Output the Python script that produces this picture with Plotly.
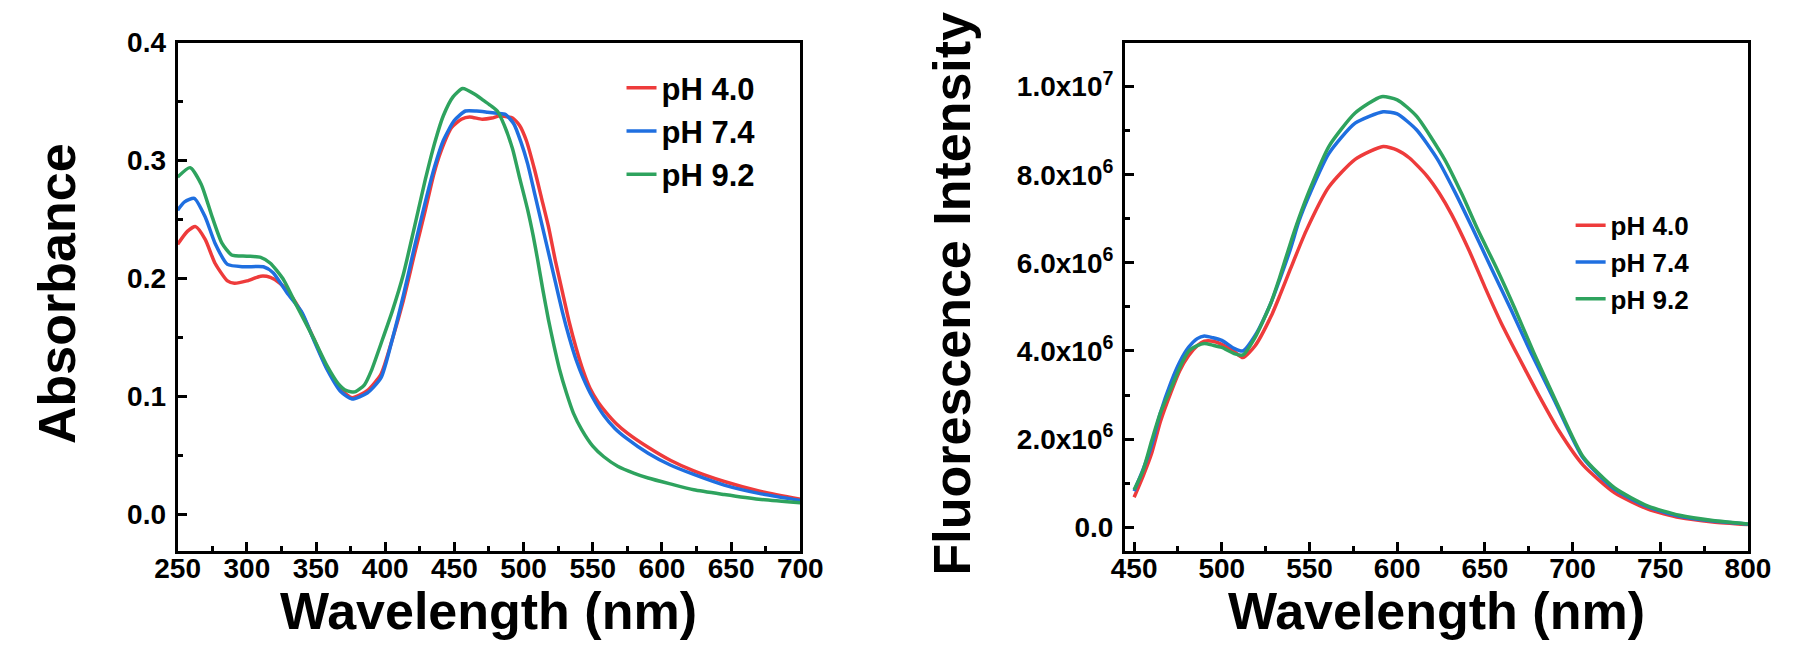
import plotly.graph_objects as go

# ---------------- Data: absorbance (left panel) ----------------
abs_wl_ph40 = [250, 257, 263, 270, 277, 286, 291, 300, 310, 317, 324, 331, 340, 348, 358, 368, 376, 387, 397,
               405, 413, 421, 429, 435, 440, 448, 455, 461, 470, 477, 483, 488, 492, 497, 502, 508, 513, 518,
               523, 528, 533, 538, 543, 548, 554, 560, 567, 575, 590, 606, 623, 645, 670, 700]
abs_ph40 = [0.229, 0.240, 0.244, 0.233, 0.213, 0.198, 0.196, 0.198, 0.202, 0.201, 0.196, 0.187, 0.170, 0.150,
            0.124, 0.106, 0.099, 0.105, 0.119, 0.148, 0.181, 0.220, 0.258, 0.288, 0.307, 0.328, 0.335, 0.337,
            0.335, 0.336, 0.338, 0.337, 0.336, 0.330, 0.317, 0.292, 0.268, 0.244, 0.215, 0.189, 0.163, 0.141,
            0.122, 0.107, 0.095, 0.086, 0.077, 0.069, 0.057, 0.046, 0.037, 0.028, 0.020, 0.013]

abs_wl_ph74 = [250, 255, 262, 270, 277, 286, 298, 312, 319, 329, 340, 348, 358, 368, 376, 387, 397, 405, 413,
               421, 429, 436, 442, 450, 458, 466, 474, 481, 487, 493, 498, 503, 508, 513, 518, 523, 528, 533,
               538, 543, 550, 558, 566, 574, 590, 606, 623, 645, 670, 700]
abs_ph74 = [0.258, 0.265, 0.268, 0.252, 0.230, 0.212, 0.210, 0.210, 0.205, 0.188, 0.171, 0.149, 0.123, 0.104,
            0.098, 0.103, 0.116, 0.148, 0.185, 0.226, 0.265, 0.296, 0.317, 0.334, 0.342, 0.342, 0.341, 0.340,
            0.339, 0.331, 0.316, 0.297, 0.272, 0.247, 0.222, 0.197, 0.172, 0.150, 0.131, 0.116, 0.099, 0.084,
            0.073, 0.065, 0.052, 0.042, 0.034, 0.025, 0.018, 0.012]

abs_wl_ph92 = [250, 259, 267, 275, 282, 289, 300, 310, 317, 326, 336, 348, 358, 366, 372, 378, 385, 390, 397,
               405, 413, 421, 429, 436, 442, 449, 456, 465, 471, 477, 481, 486, 492, 497, 503, 507, 510, 514,
               518, 522, 526, 531, 536, 542, 550, 558, 568, 580, 590, 606, 623, 645, 670, 700]
abs_ph92 = [0.286, 0.294, 0.280, 0.252, 0.230, 0.220, 0.219, 0.218, 0.213, 0.200, 0.177, 0.150, 0.126, 0.111,
            0.105, 0.104, 0.110, 0.122, 0.145, 0.172, 0.203, 0.243, 0.284, 0.316, 0.338, 0.354, 0.361, 0.356,
            0.351, 0.346, 0.342, 0.330, 0.310, 0.286, 0.258, 0.236, 0.217, 0.190, 0.165, 0.143, 0.123, 0.103,
            0.086, 0.072, 0.058, 0.049, 0.041, 0.035, 0.031, 0.026, 0.021, 0.017, 0.013, 0.010]

# ---------------- Data: fluorescence (right panel) ----------------
fl_wl_ph40 = [450, 455, 460, 465, 471, 476, 481, 486, 490, 495, 500, 507, 512, 519, 528, 533, 539, 548, 561,
              576, 592, 600, 607, 617, 624, 631, 641, 650, 659, 669, 680, 692, 706, 724, 743, 761, 780, 800]
fl_ph40 = [0.68e6, 1.15e6, 1.68e6, 2.40e6, 3.06e6, 3.55e6, 3.89e6, 4.12e6, 4.22e6, 4.22e6, 4.15e6, 3.99e6,
           3.85e6, 4.12e6, 4.78e6, 5.25e6, 5.85e6, 6.72e6, 7.72e6, 8.35e6, 8.64e6, 8.56e6, 8.38e6, 7.97e6,
           7.58e6, 7.10e6, 6.28e6, 5.45e6, 4.66e6, 3.88e6, 3.05e6, 2.20e6, 1.41e6, 0.78e6, 0.41e6, 0.22e6,
           0.12e6, 0.06e6]

fl_wl_ph74 = [450, 455, 460, 465, 471, 476, 481, 486, 490, 495, 500, 507, 512, 519, 528, 533, 539, 544, 550,
              561, 576, 592, 600, 611, 623, 633, 643, 654, 665, 676, 690, 706, 724, 743, 761, 780, 800]
fl_ph74 = [0.82e6, 1.30e6, 1.86e6, 2.60e6, 3.29e6, 3.75e6, 4.08e6, 4.28e6, 4.34e6, 4.30e6, 4.24e6, 4.06e6,
           4.00e6, 4.35e6, 5.09e6, 5.62e6, 6.30e6, 6.95e6, 7.55e6, 8.48e6, 9.17e6, 9.43e6, 9.38e6, 9.02e6,
           8.35e6, 7.60e6, 6.78e6, 5.85e6, 4.93e6, 3.98e6, 2.85e6, 1.57e6, 0.86e6, 0.46e6, 0.25e6, 0.14e6,
           0.07e6]

fl_wl_ph92 = [450, 455, 460, 465, 471, 476, 481, 486, 490, 495, 500, 507, 512, 519, 528, 533, 539, 544, 550,
              561, 576, 591, 600, 611, 627, 637, 646, 657, 667, 678, 691, 706, 724, 743, 761, 780, 800]
fl_ph92 = [0.85e6, 1.28e6, 1.96e6, 2.60e6, 3.15e6, 3.62e6, 3.99e6, 4.12e6, 4.17e6, 4.13e6, 4.08e6, 3.94e6,
           3.91e6, 4.31e6, 5.09e6, 5.67e6, 6.43e6, 7.02e6, 7.65e6, 8.64e6, 9.40e6, 9.77e6, 9.70e6, 9.33e6,
           8.35e6, 7.55e6, 6.75e6, 5.85e6, 4.97e6, 3.95e6, 2.82e6, 1.60e6, 0.89e6, 0.48e6, 0.27e6, 0.15e6,
           0.075e6]

series_names = ["pH 4.0", "pH 7.4", "pH 9.2"]
fl_tickvals = [0, 2e6, 4e6, 6e6, 8e6, 1e7]
fl_ticktext = ["0.0", "2.0x10<sup>6</sup>", "4.0x10<sup>6</sup>", "6.0x10<sup>6</sup>",
               "8.0x10<sup>6</sup>", "1.0x10<sup>7</sup>"]

# ---------------- Styling ----------------
COLORS = ["#EE3B3B", "#1F6FE0", "#2EA35E"]
FONT = "Arial, 'Liberation Sans', Helvetica, sans-serif"
W, H = 1800, 652
OFF = 8  # the page body margin shifts the figure by this many pixels

fig = go.Figure()

abs_sets = [(abs_wl_ph40, abs_ph40), (abs_wl_ph74, abs_ph74), (abs_wl_ph92, abs_ph92)]
fl_sets = [(fl_wl_ph40, fl_ph40), (fl_wl_ph74, fl_ph74), (fl_wl_ph92, fl_ph92)]

for (xs, ys), name, c in zip(abs_sets, series_names, COLORS):
    fig.add_trace(go.Scatter(x=xs, y=ys, name=name, mode="lines",
                             line=dict(color=c, width=3.5, shape="spline", smoothing=0.6),
                             xaxis="x", yaxis="y", legend="legend"))
for (xs, ys), name, c in zip(fl_sets, series_names, COLORS):
    fig.add_trace(go.Scatter(x=xs, y=ys, name=name, mode="lines",
                             line=dict(color=c, width=3.5, shape="spline", smoothing=0.6),
                             xaxis="x2", yaxis="y2", legend="legend2"))


def px_x(p):
    return (p - OFF) / W


def px_y(p):
    return 1 - (p - OFF) / H


tickfont = dict(family=FONT, size=28, color="black", weight="bold")
common = dict(showline=True, linecolor="black", linewidth=3, mirror=True,
              ticks="inside", ticklen=9, tickwidth=3, tickcolor="black",
              showgrid=False, zeroline=False, tickfont=tickfont)
minor_common = dict(ticks="inside", ticklen=5, tickwidth=3, tickcolor="black", showgrid=False)

ydom = [px_y(548), px_y(28)]

fig.update_layout(
    width=W, height=H,
    margin=dict(l=0, r=0, t=0, b=0),
    paper_bgcolor="white", plot_bgcolor="white",
    xaxis=dict(domain=[px_x(158.5), px_x(797.5)], range=[250, 700], dtick=50, tick0=0,
               minor=dict(dtick=25, **minor_common), ticklabelstandoff=-9,
               anchor="y", **common),
    yaxis=dict(domain=ydom, range=[-0.0305, 0.4], dtick=0.1, tick0=0, tickformat=".1f",
               minor=dict(dtick=0.05, **minor_common), ticklabelstandoff=3,
               anchor="x", **common),
    xaxis2=dict(domain=[px_x(1130.7), px_x(1770)], range=[444.8, 800], dtick=50, tick0=0,
                minor=dict(dtick=25, **minor_common), ticklabelstandoff=-9,
                anchor="y2", **common),
    yaxis2=dict(domain=ydom, range=[-0.53e6, 1.1e7], tickmode="array",
                tickvals=fl_tickvals, ticktext=fl_ticktext,
                minor=dict(tickmode="linear", tick0=0, dtick=1e6, **minor_common),
                ticklabelstandoff=3, anchor="x2", **common),
    legend=dict(x=px_x(614), y=px_y(47), xanchor="left", yanchor="top",
                font=dict(family=FONT, size=31, color="black", weight="bold"),
                bgcolor="rgba(0,0,0,0)", borderwidth=0, itemwidth=30, tracegroupgap=0),
    legend2=dict(x=px_x(1588), y=px_y(191), xanchor="left", yanchor="top",
                 font=dict(family=FONT, size=26, color="black", weight="bold"),
                 bgcolor="rgba(0,0,0,0)", borderwidth=0, itemwidth=30, tracegroupgap=0),
)

title_font = dict(family=FONT, size=52, color="black", weight="bold")
fig.add_annotation(text="Absorbance", xref="paper", yref="paper", x=px_x(34), y=px_y(285),
                   textangle=-90, showarrow=False, xanchor="center", yanchor="middle", font=title_font)
fig.add_annotation(text="Wavelength (nm)", xref="paper", yref="paper", x=px_x(478), y=px_y(610),
                   showarrow=False, xanchor="center", yanchor="middle", font=title_font)
fig.add_annotation(text="Fluorescence Intensity", xref="paper", yref="paper", x=px_x(953), y=px_y(285),
                   textangle=-90, showarrow=False, xanchor="center", yanchor="middle", font=title_font)
fig.add_annotation(text="Wavelength (nm)", xref="paper", yref="paper", x=px_x(1450), y=px_y(610),
                   showarrow=False, xanchor="center", yanchor="middle", font=title_font)

fig.write_html("out.html")
